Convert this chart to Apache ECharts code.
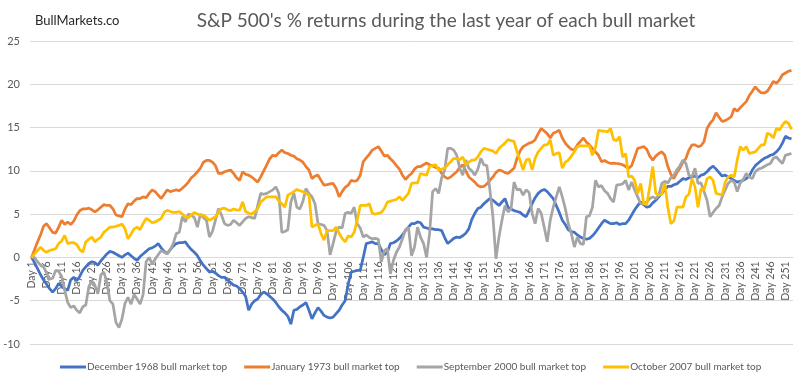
<!DOCTYPE html>
<html>
<head>
<meta charset="utf-8">
<script src="https://cdn.jsdelivr.net/npm/echarts@6/dist/echarts.min.js"></script>
<style>html,body{margin:0;padding:0;background:#fff;}#c{width:800px;height:382px;}</style>
</head>
<body>
<div id="c"></div>
<script>
const titleText = "S&P 500's % returns during the last year of each bull market";
const brandText = "BullMarkets.co";
const seriesNames = ["December 1968 bull market top","January 1973 bull market top","September 2000 bull market top","October 2007 bull market top"];
const seriesColors = ["#4472C4","#ED7D31","#A5A5A5","#FFC000"];
const yTicks = [-10,-5,0,5,10,15,20,25];
const dayCount = 253;
const categories = [];
for (let i = 1; i <= dayCount; i++) categories.push("Day " + i);

const dec1968 = [
0,-0.6,-1.3,-2.0,-2.6,-3.1,-3.6,-4.0,-3.6,-3.0,
-3.3,-3.6,-3.8,-2.6,-2.3,-2.7,-2.2,-1.5,-1.1,-0.7,
-0.5,-0.6,-0.9,-0.4,0,0.4,0.7,0.6,0.4,0.2,
0,0.3,0.5,0.2,-0.1,-0.35,0.1,0.4,0.7,1.0,
1.1,1.3,1.6,1.1,0.7,0.45,0.9,1.3,1.6,1.7,
1.7,1.8,1.3,0.9,0.6,0.2,-0.4,-0.9,-1.3,-1.7,
-1.6,-1.8,-2.1,-2.3,-2.3,-2.6,-2.9,-3.2,-3.3,-3.6,
-4.0,-4.5,-6.1,-5.4,-5.0,-4.8,-4.3,-4.0,-4.2,-4.5,
-4.8,-5.2,-5.7,-6.1,-6.4,-6.8,-7.7,-6.1,-6.0,-5.7,
-5.5,-5.2,-6.1,-7.1,-6.4,-5.8,-6.2,-6.7,-6.9,-7.0,
-6.9,-6.5,-6.1,-5.5,-5.0,-3.1,-1.7,-1.6,-1.5,-1.5,
0,1.6,1.7,1.8,1.6,1.6,0.9,0.3,0.6,1.6,
1.7,1.9,2.2,2.6,3.1,3.5,3.9,3.9,4.1,4.0,
3.5,3.4,3.3,3.3,3.2,3.2,3.1,2.3,1.6,1.9,
2.2,2.35,2.3,2.5,2.8,3.3,4.4,5.1,5.65,5.8,
6.2,6.5,6.8,6.6,6.3,6.0,6.4,6.8,5.8,5.6,
5.4,5.3,5.2,4.9,4.7,5.4,6.2,6.9,7.4,7.7,
7.85,7.6,7.2,6.8,6.0,5.2,4.3,3.8,3.2,3.0,
2.9,2.6,2.35,2.2,2.1,2.2,2.5,2.9,3.4,3.9,
4.3,4.1,3.9,3.9,4.0,3.8,3.9,3.9,4.3,4.9,
5.5,6.0,6.4,6.1,5.8,5.9,6.3,6.6,7.0,7.4,
7.8,8.2,8.2,8.4,8.5,8.8,9.1,9.0,9.2,9.3,
9.4,9.2,9.5,9.6,9.9,10.3,10.55,10.2,9.8,9.4,
9.5,9.3,9.1,8.9,8.7,8.8,8.9,9.1,9.4,10.1,
10.6,10.9,11.2,11.45,11.6,11.8,11.9,12.2,12.6,13.2,
14.0,13.8,13.7
];

const jan1973 = [
0,0.9,1.8,2.6,3.6,3.9,3.4,2.9,2.8,3.5,
4.3,3.8,4.1,3.8,4.2,4.9,5.4,5.6,5.6,5.7,
5.5,5.25,5.5,5.8,6.1,6.0,6.0,5.6,4.9,4.8,
4.7,5.6,6.2,6.1,6.5,6.8,6.8,7.0,6.9,7.4,
7.8,7.6,7.2,6.8,7.3,7.8,7.6,7.7,7.8,7.7,
8.0,8.3,8.7,9.2,9.5,9.9,10.3,11.0,11.2,11.2,
11.0,10.6,9.7,9.7,9.9,10.0,10.1,9.7,9.2,8.9,
9.9,9.6,9.5,9.3,9.0,8.7,9.3,10.0,10.7,11.4,
11.8,11.7,12.1,12.4,12.1,12.0,11.8,11.7,11.4,11.25,
11.0,10.5,10.1,9.1,9.4,9.5,8.9,8.35,8.4,8.5,
8.55,8.0,7.0,7.6,8.1,8.35,8.9,8.8,8.9,9.5,
11.05,11.5,11.9,12.4,12.6,12.8,12.3,11.7,11.8,11.4,
11.05,10.6,10.2,9.5,9.0,9.4,9.7,10.2,10.5,10.5,
10.7,10.9,10.7,10.55,10.4,10.3,9.7,9.3,9.1,9.3,
9.6,9.9,10.4,10.7,10.0,9.3,9.0,8.7,8.3,8.15,
8.2,8.5,8.9,9.3,9.8,10.1,10.0,9.8,9.7,10.0,
10.3,11.45,12.3,12.8,13.0,13.2,13.3,13.6,14.3,14.9,
14.6,14.3,13.8,14.35,14.5,14.7,13.8,13.2,12.8,12.5,
12.4,13.0,13.4,13.8,13.3,13.0,12.6,12.2,11.8,11.05,
11.2,11.0,10.85,10.9,10.85,10.8,10.7,10.5,10.3,10.6,
11.6,12.6,12.7,12.8,12.5,11.7,11.25,11.7,12.0,12.2,
11.8,10.5,9.6,9.1,9.8,10.3,11.0,11.45,12.4,13.0,
13.0,12.8,12.9,13.4,14.9,15.5,15.9,16.7,16.2,15.7,
15.8,16.0,16.25,17.2,16.9,17.3,17.65,18.0,18.7,19.2,
19.7,19.3,19.0,19.0,19.2,19.75,20.35,20.1,20.5,21.1,
21.3,21.5,21.6
];

const sep2000 = [
0,0,-0.5,-0.9,-1.1,-1.8,-2.5,-2.4,-1.5,-1.6,
-2.2,-3.8,-5.2,-5.8,-5.6,-6.1,-6.4,-5.7,-5.5,-3.4,
-2.7,-3.2,-4.2,-2.0,-1.7,-2.9,-5.0,-5.4,-7.5,-8.1,
-7.1,-5.3,-4.6,-5.4,-4.3,-4.8,-5.4,-4.3,-0.5,0,
-0.75,-0.2,0.3,0.8,0.6,0.4,0.9,1.6,2.75,2.9,
4.7,4.1,5.0,4.9,4.6,3.5,5.0,4.6,4.3,2.35,
3.0,4.3,5.65,4.9,3.9,3.7,3.8,4.3,4.0,3.7,
4.1,4.5,4.7,4.6,4.5,6.0,7.4,7.3,7.4,7.6,
7.8,8.15,7.4,2.9,3.0,3.2,6.4,7.4,5.8,5.6,
6.5,7.95,7.4,7.0,6.2,3.9,3.8,3.7,3.1,0.3,
1.6,3.0,3.5,3.4,5.1,5.2,5.1,5.8,3.9,3.4,
2.35,2.6,2.3,2.15,2.2,2.1,-0.5,0.8,1.0,-1.9,
-0.35,0.6,1.2,2.15,3.2,3.5,0.2,1.2,3.5,2.35,
1.6,0,2.75,7.6,7.95,7.4,9.2,10.1,12.6,12.6,
12.4,11.8,10.3,9.5,11.25,10.3,10.0,9.5,10.2,11.45,
10.7,10.6,7.8,4.7,-0.15,2.35,4.3,6.0,5.25,5.6,
8.7,7.8,7.9,7.2,7.8,7.5,5.1,3.9,5.65,5.1,
3.5,1.8,4.3,5.8,7.0,8.15,7.0,5.65,3.9,2.75,
1.2,2.35,1.6,1.5,4.7,4.8,5.8,8.9,8.15,8.3,
7.7,7.4,6.8,6.4,8.35,8.4,8.5,8.9,7.8,8.7,
7.8,7.0,6.2,6.2,6.4,6.8,7.0,6.8,7.2,8.55,
8.8,8.6,9.2,9.5,10.1,10.6,11.25,10.85,9.5,9.3,
10.3,8.55,8.6,7.6,6.6,4.7,5.2,5.65,6.0,7.0,
7.8,8.55,8.9,8.7,7.6,8.6,9.0,9.7,9.3,9.1,
9.9,10.2,10.3,10.5,10.7,10.85,11.45,11.6,11.2,10.85,
11.8,11.9,12.0
];

const oct2007 = [
0,0.4,0.8,1.2,0.8,0.6,0.8,0.9,1.0,1.6,
1.9,2.55,1.6,1.7,1.7,1.5,0.9,0.6,1.8,2.1,
2.35,1.8,2.1,2.35,2.9,3.2,3.5,3.5,3.6,3.7,
3.85,3.3,2.15,2.7,3.3,3.5,3.2,3.9,4.5,4.3,
4.0,4.1,4.3,4.5,5.2,5.45,5.3,5.2,5.2,5.3,
5.0,4.7,4.6,4.9,5.2,5.0,4.9,4.9,4.6,4.3,
4.5,4.7,5.2,5.65,5.7,5.5,5.4,5.6,5.5,5.45,
6.4,5.3,5.1,5.0,5.3,5.6,6.4,6.7,7.0,7.0,
7.0,7.0,6.5,6.2,5.8,7.2,7.4,7.6,7.85,7.7,
7.6,7.4,7.2,3.5,3.7,3.9,2.75,2.0,3.1,3.1,
3.1,3.5,2.8,2.2,1.8,2.5,2.35,2.9,4.3,6.0,
6.0,6.0,6.2,5.1,5.0,5.1,5.2,5.65,6.4,6.5,
6.6,6.7,7.0,6.6,7.0,7.4,8.55,8.6,8.6,9.7,
9.6,9.5,10.5,10.6,10.7,10.1,10.2,10.3,10.7,11.05,
11.45,11.4,11.3,11.6,10.7,11.0,11.25,11.25,11.6,12.2,
12.6,12.5,12.4,12.3,12.0,12.6,12.9,13.2,13.6,13.5,
13.4,12.2,11.2,10.1,11.25,11.4,10.1,11.45,12.2,12.6,
13.0,13.0,13.6,11.8,12.0,12.1,10.3,11.0,11.25,11.7,
12.2,12.8,12.9,12.9,12.9,12.9,11.8,12.7,14.7,14.6,
14.6,14.5,14.9,13.6,13.5,13.95,11.6,12.0,9.3,9.4,
8.9,7.4,8.55,6.2,6.1,8.15,10.5,7.4,7.2,7.3,
8.55,5.8,3.9,4.2,5.8,5.8,5.8,7.0,7.3,9.1,
8.15,5.8,7.95,7.8,9.1,9.3,8.9,7.4,7.3,7.2,
8.7,9.3,9.5,9.3,11.25,12.8,12.4,12.8,12.0,12.1,
12.2,12.6,13.0,13.0,14.35,14.2,13.8,14.9,14.7,15.3,
15.7,15.5,14.8
];

const seriesValues = [dec1968, jan1973, sep2000, oct2007];

const chart = echarts.init(document.getElementById('c'), null, {renderer: 'canvas'});
const FONT = 'Lato, "Liberation Sans", sans-serif';

const gridTop = 41, gridBottom = 38, H = 382;
const plotH = H - gridTop - gridBottom;
const yMin = yTicks[0], yMax = yTicks[yTicks.length - 1];
// move the category axis (line + labels) up to the zero line, as in the original
const zeroOffset = -plotH * (0 - yMin) / (yMax - yMin);

chart.setOption({
  animation: false,
  backgroundColor: '#ffffff',
  title: [
    {text: titleText, left: 441, top: 6, textAlign: 'center',
     textStyle: {fontFamily: FONT, fontSize: 19, fontWeight: 'normal', color: '#595959'}},
    {text: brandText, left: 30, top: 9,
     textStyle: {fontFamily: FONT, fontSize: 13, fontWeight: 'normal', color: '#262626'}}
  ],
  legend: {
    bottom: 5, left: 55, itemWidth: 26, itemHeight: 3, itemGap: 17,
    icon: 'rect',
    textStyle: {fontFamily: FONT, fontSize: 10, color: '#595959', padding: [0,0,0,-4]},
    data: seriesNames
  },
  grid: {left: 30, right: 7, top: gridTop, bottom: gridBottom},
  xAxis: {
    type: 'category', data: categories, boundaryGap: true,
    offset: zeroOffset,
    axisLine: {onZero: false, lineStyle: {color: '#d9d9d9', width: 1}},
    axisTick: {show: false},
    axisLabel: {interval: 4, rotate: 90, fontFamily: FONT, fontSize: 10.5, color: '#595959', margin: 4},
    splitLine: {show: false}
  },
  yAxis: {
    type: 'value', min: yMin, max: yMax, interval: 5,
    axisLine: {show: false}, axisTick: {show: false},
    axisLabel: {fontFamily: FONT, fontSize: 11, color: '#595959', margin: 10},
    splitLine: {lineStyle: {color: '#d9d9d9', width: 1}}
  },
  series: seriesNames.map((n, i) => ({
    name: n, type: 'line', data: seriesValues[i], symbol: 'none',
    lineStyle: {width: 2.75, color: seriesColors[i]}, itemStyle: {color: seriesColors[i]},
    z: 2 + i
  }))
});
</script>
</body>
</html>
